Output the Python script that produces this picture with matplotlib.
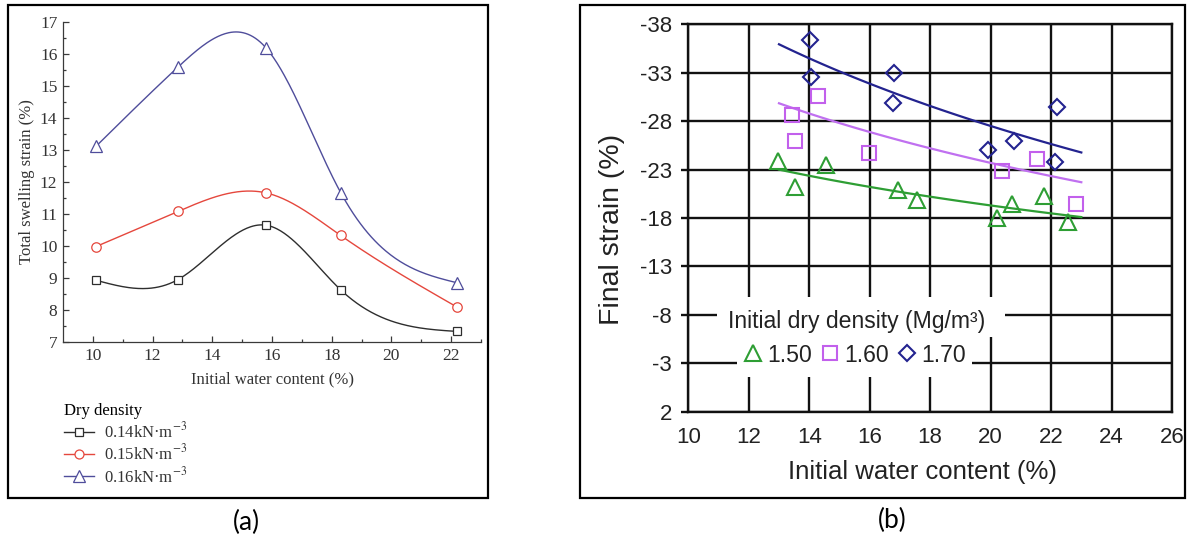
import matplotlib
matplotlib.use("Agg")
import matplotlib.pyplot as plt
import numpy as np
from matplotlib.lines import Line2D
from matplotlib.patches import Rectangle

# ---------------- data: panel (a) ----------------
water_a = [10.1, 12.85, 15.8, 18.3, 22.2]
swell_014 = [8.93, 8.95, 10.65, 8.63, 7.33]
swell_015 = [9.98, 11.08, 11.66, 10.33, 8.09]
swell_016 = [13.11, 15.59, 16.19, 11.67, 8.85]
labels_a = ['0.14kN·m$^{-3}$', '0.15kN·m$^{-3}$', '0.16kN·m$^{-3}$']

# ---------------- data: panel (b) ----------------
w150 = [12.96, 13.53, 14.57, 16.95, 17.55, 20.2, 20.7, 21.77, 22.55]
s150 = [-23.84, -21.2, -23.5, -20.86, -19.9, -18.0, -19.49, -20.3, -17.57]
w160 = [13.44, 13.54, 14.3, 15.99, 20.37, 21.54, 22.81]
s160 = [-28.64, -26.0, -30.6, -24.7, -22.82, -24.09, -19.49]
w170 = [14.02, 14.06, 16.8, 16.77, 19.92, 20.79, 22.19, 22.12]
s170 = [-36.35, -32.6, -33.0, -29.85, -25.05, -25.9, -29.43, -23.74]
labels_b = ['1.50', '1.60', '1.70']
# log trend lines y = a*ln(x) + b
trend_a = [8.59, 14.29, 19.58]
trend_b = [-45.03, -66.50, -86.16]
trend_range = [13, 23]
yticks_b = [-38, -33, -28, -23, -18, -13, -8, -3, 2]
xticks_b = [10, 12, 14, 16, 18, 20, 22, 24, 26]

W, H = 1189, 540
fig = plt.figure(figsize=(W / 100, H / 100), dpi=100)
plt.rcParams['mathtext.fontset'] = 'stix'


def px(x0, y0, x1, y1):
    # pixel box -> figure fraction [left, bottom, width, height]
    return [x0 / W, 1 - y1 / H, (x1 - x0) / W, (y1 - y0) / H]


def spline(x, y, num=300):
    # natural cubic spline for the smooth connecting curves
    x = np.asarray(x, float)
    y = np.asarray(y, float)
    n = len(x)
    h = np.diff(x)
    A = np.zeros((n, n))
    r = np.zeros(n)
    A[0, 0] = A[-1, -1] = 1
    for i in range(1, n - 1):
        A[i, i - 1] = h[i - 1]
        A[i, i] = 2 * (h[i - 1] + h[i])
        A[i, i + 1] = h[i]
        r[i] = 6 * ((y[i + 1] - y[i]) / h[i] - (y[i] - y[i - 1]) / h[i - 1])
    M = np.linalg.solve(A, r)
    xs = np.linspace(x[0], x[-1], num)
    k = np.clip(np.searchsorted(x, xs) - 1, 0, n - 2)
    t0 = x[k + 1] - xs
    t1 = xs - x[k]
    hk = h[k]
    ys = (M[k] * t0 ** 3 + M[k + 1] * t1 ** 3) / (6 * hk) \
        + (y[k] / hk - M[k] * hk / 6) * t0 + (y[k + 1] / hk - M[k + 1] * hk / 6) * t1
    return xs, ys


# ---------------- panel (a) ----------------
serif = 'Liberation Serif'
axc = '#3a3a3a'
ax1 = fig.add_axes(px(63, 22, 481, 342))
series_a = [
    (swell_014, '#2e2e2e', 's', 6.3),
    (swell_015, '#e5473d', 'o', 6.8),
    (swell_016, '#4f4d9b', '^', 8.4),
]
handles = []
for yv, col, mk, ms in series_a:
    xs, ys = spline(water_a, yv)
    ax1.plot(xs, ys, color=col, lw=1.0)
    ax1.plot(water_a, yv, ls='none', marker=mk, ms=ms, mfc='white', mec=col, mew=0.9)
    handles.append(Line2D([], [], color=col, lw=1.0, marker=mk, ms=ms * 0.95,
                          mfc='white', mec=col, mew=0.9))

ax1.set_xlim(9, 23)
ax1.set_ylim(7, 17)
ax1.set_xticks(range(10, 23, 2))
ax1.set_xticks(range(11, 24, 2), minor=True)
ax1.set_yticks(range(7, 18))
ax1.set_yticks(np.arange(7.5, 17, 1), minor=True)
for s in ['top', 'right']:
    ax1.spines[s].set_visible(False)
for s in ['left', 'bottom']:
    ax1.spines[s].set_color(axc)
    ax1.spines[s].set_linewidth(0.9)
ax1.tick_params(which='major', direction='in', length=4.5, width=0.9, color=axc,
                labelsize=12.5, pad=4, labelcolor='#333333')
ax1.tick_params(which='minor', direction='in', length=2.5, width=0.9, color=axc)
for t in ax1.get_xticklabels() + ax1.get_yticklabels():
    t.set_fontfamily(serif)
ax1.set_ylabel('Total swelling strain (%)', fontfamily=serif, fontsize=12,
               color='#333333', va='center')
ax1.yaxis.set_label_coords(-0.086, 0.5)
ax1.set_xlabel('Initial water content (%)', fontfamily=serif, fontsize=12,
               color='#333333', va='center')
ax1.xaxis.set_label_coords(0.501, -0.1156)

fig.legend(handles, labels_a, title='Dry density', loc='upper left',
           bbox_to_anchor=(64 / W, 1 - 403 / H), frameon=False, alignment='left',
           prop={'family': serif, 'size': 12}, title_fontproperties={'family': serif, 'size': 12},
           handlelength=1.8, handletextpad=0.6, labelspacing=0.14, borderpad=0,
           borderaxespad=0, labelcolor='#333333')

# ---------------- panel (b) ----------------
sans = 'Liberation Sans'
ax2 = fig.add_axes(px(688.3, 24.3, 1172, 411.7))
series_b = [
    (w150, s150, '#2e9e34', '#2e9e34', '^', 11.0),
    (w160, s160, '#c260ec', '#c070f0', 's', 10.0),
    (w170, s170, '#23238f', '#23238f', 'D', 7.8),
]
handles_b = []
for i, (xv, yv, col, lcol, mk, ms) in enumerate(series_b):
    ax2.plot(xv, yv, ls='none', marker=mk, ms=ms, mfc='none', mec=col, mew=1.5, zorder=4)
    xt = np.linspace(trend_range[0], trend_range[1], 100)
    ax2.plot(xt, trend_a[i] * np.log(xt) + trend_b[i], color=lcol, lw=1.6, zorder=3)
    handles_b.append(Line2D([], [], ls='none', marker=mk, ms=ms, mfc='none', mec=col, mew=1.5))

ax2.set_xlim(10, 26)
ax2.set_ylim(2, -38)
ax2.set_xticks(xticks_b)
ax2.set_xticklabels([str(v) for v in xticks_b])
ax2.set_yticks(yticks_b)
ax2.set_yticklabels([str(v) for v in yticks_b])
ax2.grid(True, color='#111111', lw=1.7)
for s in ax2.spines.values():
    s.set_linewidth(1.7)
    s.set_color('#111111')
ax2.tick_params(axis='y', direction='out', length=4.8, width=1.7, pad=7, labelsize=16,
                color='#111111', labelcolor='#222222')
ax2.tick_params(axis='x', length=0, pad=11, labelsize=16, labelcolor='#222222')
for t in ax2.get_xticklabels() + ax2.get_yticklabels():
    t.set_fontfamily(sans)
ax2.set_ylabel('Final strain (%)', fontfamily=sans, fontsize=20.5, color='#222222', va='center')
ax2.yaxis.set_label_coords(-0.1577, 0.47)
ax2.set_xlabel('Initial water content (%)', fontfamily=sans, fontsize=18.5, color='#222222',
               va='center')
ax2.xaxis.set_label_coords(0.484, -0.1557)

# white patches behind the in-plot legend text
ax2.add_patch(Rectangle((10.94, -9.84), 20.47 - 10.94, 4.13, facecolor='white',
                        edgecolor='none', zorder=2.2))
ax2.add_patch(Rectangle((11.6, -5.71), 19.37 - 11.6, 4.13, facecolor='white',
                        edgecolor='none', zorder=2.2))
fig.text(856.3 / W, 1 - 321.7 / H, 'Initial dry density (Mg/m³)', fontfamily=sans,
         fontsize=16.6, ha='center', va='center', color='#222222', zorder=5)
fig.legend(handles_b, labels_b, loc='center', bbox_to_anchor=(855.4 / W, 1 - 355 / H),
           ncol=3, frameon=False, prop={'family': sans, 'size': 16.6}, numpoints=1,
           handlelength=0.7, handletextpad=0.25, columnspacing=0.45, borderpad=0,
           borderaxespad=0, labelcolor='#222222')

# ---------------- panel frames and captions ----------------
for box in [(7.5, 5, 488, 498), (579.5, 5, 1185, 498)]:
    l, b, w, h = px(*box)
    fig.patches.append(Rectangle((l, b), w, h, transform=fig.transFigure, fill=False,
                                 edgecolor='black', lw=1.6))
fig.text(246.7 / W, 1 - 522 / H, '(a)', fontfamily='Lato', fontsize=19, ha='center', va='center')
fig.text(892 / W, 1 - 520 / H, '(b)', fontfamily='Lato', fontsize=19, ha='center', va='center')

fig.savefig('out.png', dpi=100, facecolor='white')
